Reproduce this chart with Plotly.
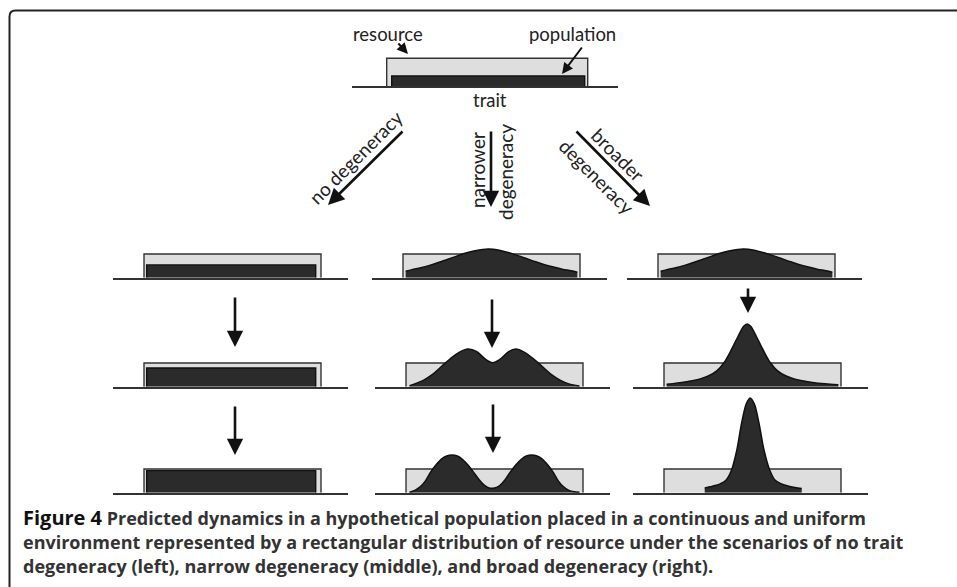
import plotly.graph_objects as go

W, H = 957, 587

# ---- data (trait on 0..1 = resource span, heights in units of the resource level) ----
resource_lo, resource_hi, resource_level = 0.0, 1.0, 1.0

top_pop_span = [0.025, 0.985]
top_pop_level = 0.36

# no degeneracy: population stays a flat block that fills up the resource
left_levels = [0.54, 0.79, 0.93]
left_span = [0.015, 0.97]

# starting state for both degenerate scenarios (broad bell)
start_t = [0.015, 0.05, 0.10, 0.15, 0.20, 0.25, 0.30, 0.35, 0.40, 0.45, 0.48,
           0.51, 0.55, 0.60, 0.65, 0.70, 0.75, 0.80, 0.85, 0.90, 0.95, 0.985]
start_h = [0.27, 0.34, 0.42, 0.52, 0.64, 0.77, 0.90, 1.03, 1.13, 1.19, 1.21,
           1.20, 1.15, 1.05, 0.93, 0.80, 0.67, 0.55, 0.45, 0.36, 0.29, 0.23]

# narrower degeneracy
narrow2_t = [0.02, 0.05, 0.10, 0.15, 0.20, 0.25, 0.30, 0.35, 0.40, 0.45, 0.49,
             0.53, 0.58, 0.62, 0.67, 0.72, 0.77, 0.82, 0.87, 0.92, 0.98]
narrow2_h = [0.04, 0.12, 0.28, 0.52, 0.85, 1.18, 1.45, 1.59, 1.48, 1.15, 1.01,
             1.15, 1.48, 1.59, 1.45, 1.18, 0.85, 0.52, 0.28, 0.12, 0.03]
narrow3_t = [0.02, 0.05, 0.08, 0.11, 0.14, 0.17, 0.20, 0.23, 0.26, 0.29, 0.32,
             0.35, 0.38, 0.41, 0.44, 0.47, 0.50, 0.53, 0.56, 0.59, 0.62, 0.65,
             0.68, 0.71, 0.74, 0.77, 0.80, 0.83, 0.86, 0.89, 0.92, 0.95, 0.98]
narrow3_h = [0.02, 0.10, 0.25, 0.50, 0.88, 1.18, 1.42, 1.55, 1.59, 1.55, 1.40,
             1.17, 0.88, 0.58, 0.33, 0.20, 0.20, 0.30, 0.55, 0.88, 1.17, 1.40,
             1.55, 1.59, 1.55, 1.42, 1.18, 0.88, 0.50, 0.25, 0.10, 0.04, 0.02]

# broader degeneracy
broad2_t = [0.015, 0.05, 0.10, 0.15, 0.20, 0.25, 0.30, 0.34, 0.38, 0.42, 0.45,
            0.47, 0.49, 0.52, 0.56, 0.60, 0.64, 0.69, 0.74, 0.79, 0.84, 0.89,
            0.94, 0.985]
broad2_h = [0.10, 0.13, 0.18, 0.24, 0.32, 0.45, 0.68, 1.02, 1.55, 2.15, 2.55,
            2.65, 2.55, 2.15, 1.55, 1.02, 0.68, 0.45, 0.32, 0.24, 0.18, 0.13,
            0.10, 0.08]
broad3_t = [0.23, 0.26, 0.29, 0.32, 0.35, 0.38, 0.41, 0.44, 0.465, 0.486, 0.51,
            0.535, 0.565, 0.595, 0.625, 0.66, 0.70, 0.74, 0.778]
broad3_h = [0.20, 0.25, 0.30, 0.38, 0.52, 0.92, 1.75, 3.00, 3.75, 4.00, 3.75,
            3.00, 1.80, 1.00, 0.55, 0.38, 0.28, 0.22, 0.18]

caption = [
    "<b><span style='font-size:20px'>Figure 4</span></b> <b><span style='color:#333'>Predicted dynamics in a hypothetical population placed in a continuous and uniform</span></b>",
    "<b><span style='color:#333'>environment represented by a rectangular distribution of resource under the scenarios of no trait</span></b>",
    "<b><span style='color:#333'>degeneracy (left), narrow degeneracy (middle), and broad degeneracy (right).</span></b>",
]

# ---- layout helpers ----
RES_FILL = "#dedede"
POP_FILL = "#2b2b2b"
EDGE = "#333333"
FONT = "Lato"
CAP_FONT = "Open Sans"


def px(x, y):
    return x / W, 1 - y / H


fig = go.Figure()
layout = {}

# (t=0 pixel x, baseline pixel y, resource width px, unit height px, ymax)
panels = [
    (386.7, 86.0, 201, 27.7, 1.25),
    (144, 277.7, 177, 23.7, 1.5), (403, 277.7, 177, 23.7, 1.5), (658, 277.7, 177, 23.7, 1.5),
    (144, 386.7, 177, 23.7, 2.9), (406, 386.7, 177, 23.7, 2.9), (664, 386.7, 177, 23.7, 2.9),
    (144, 492.7, 177, 23.7, 4.2), (406, 492.7, 177, 23.7, 4.2), (664, 492.7, 177, 23.7, 4.2),
]
xlo, xhi = -0.175, 1.15

for i, (x0, base, wres, unit, ymax) in enumerate(panels, start=1):
    sx = "" if i == 1 else str(i)
    layout["xaxis" + sx] = dict(
        domain=[(x0 + xlo * wres) / W, (x0 + xhi * wres) / W], range=[xlo, xhi],
        anchor="y" + sx, showline=True, linecolor=EDGE, linewidth=1.6,
        showgrid=False, zeroline=False, showticklabels=False, ticks="", fixedrange=True)
    layout["yaxis" + sx] = dict(
        domain=[(H - base) / H, (H - base + ymax * unit) / H], range=[0, ymax],
        anchor="x" + sx, visible=False, showgrid=False, zeroline=False, fixedrange=True)


def add_resource(i):
    sx = "" if i == 1 else str(i)
    fig.add_trace(go.Scatter(
        x=[resource_lo, resource_lo, resource_hi, resource_hi],
        y=[0, resource_level, resource_level, 0],
        fill="toself", fillcolor=RES_FILL, mode="lines",
        line=dict(color=EDGE, width=1.4), xaxis="x" + sx, yaxis="y" + sx,
        hoverinfo="skip", showlegend=False))


def add_block(i, span, level):
    sx = "" if i == 1 else str(i)
    fig.add_trace(go.Scatter(
        x=[span[0], span[0], span[1], span[1]], y=[0, level, level, 0],
        fill="toself", fillcolor=POP_FILL, mode="lines",
        line=dict(color="#111", width=1.4), xaxis="x" + sx, yaxis="y" + sx,
        hoverinfo="skip", showlegend=False))


def add_curve(i, t, h):
    sx = "" if i == 1 else str(i)
    fig.add_trace(go.Scatter(
        x=t, y=h, fill="tozeroy", fillcolor=POP_FILL, mode="lines",
        line=dict(color="#111", width=1.5, shape="spline", smoothing=0.9),
        xaxis="x" + sx, yaxis="y" + sx, hoverinfo="skip", showlegend=False))


for i in range(1, 11):
    add_resource(i)

add_block(1, top_pop_span, top_pop_level)
for i, lvl in zip([2, 5, 8], left_levels):
    add_block(i, left_span, lvl)
add_curve(3, start_t, start_h)
add_curve(4, start_t, start_h)
add_curve(6, narrow2_t, narrow2_h)
add_curve(9, narrow3_t, narrow3_h)
add_curve(7, broad2_t, broad2_h)
add_curve(10, broad3_t, broad3_h)

annotations = []


def arrow(x0, y0, x1, y1, width=2.6, size=1.25):
    hx, hy = px(x1, y1)
    annotations.append(dict(
        x=hx, y=hy, xref="paper", yref="paper", ax=x0 - x1, ay=y0 - y1,
        axref="pixel", ayref="pixel", text="", showarrow=True,
        arrowhead=2, arrowsize=size, arrowwidth=width, arrowcolor="#111"))


def label(x, y, text, angle=0, size=18.5):
    lx, ly = px(x, y)
    annotations.append(dict(
        x=lx, y=ly, xref="paper", yref="paper", text=text, showarrow=False,
        textangle=angle, xanchor="center", yanchor="middle",
        font=dict(family=FONT, size=size, color="#222")))


# top labels and pointer arrows
label(388, 34, "resource")
label(572, 34, "population")
label(490, 100, "trait")
arrow(397, 42, 408, 54, width=2, size=1.1)
arrow(583, 46, 562, 74, width=2, size=1.1)

# scenario arrows
arrow(404, 130, 328, 205)
label(355, 157, "no degeneracy", -45, 19)
arrow(491, 130, 491, 207)
label(477, 170, "narrower", -90, 19)
label(505, 172, "degeneracy", -90, 19)
arrow(575, 130, 650, 206)
label(618, 154, "broader", 45, 19)
label(597, 176, "degeneracy", 45, 19)

# time arrows between rows
arrow(235, 296, 235, 347)
arrow(235, 405, 235, 455)
arrow(492, 298, 492, 348)
arrow(493, 403, 493, 453)
arrow(748, 287, 748, 313)

# caption
for k, (line, yc) in enumerate(zip(caption, [517, 542, 566])):
    cx, cy = px(21, yc)
    annotations.append(dict(
        x=cx, y=cy, xref="paper", yref="paper", text=line, showarrow=False,
        xanchor="left", yanchor="middle", align="left",
        font=dict(family=CAP_FONT, size=18, color="#111")))

# rounded frame (runs off the right and bottom edge)
fx0, fy0, r = 9.5, 10.5, 6
corner = [px(fx0, H + 20), px(fx0, fy0 + r), px(fx0, fy0), px(fx0 + r, fy0), px(W + 20, fy0)]
path = "M {0[0]},{0[1]} L {1[0]},{1[1]} Q {2[0]},{2[1]} {3[0]},{3[1]} L {4[0]},{4[1]}".format(*corner)
shapes = [dict(type="path", xref="paper", yref="paper", path=path,
               line=dict(color="#222", width=2))]

fig.update_layout(
    **layout,
    width=W, height=H, margin=dict(l=0, r=0, t=0, b=0),
    paper_bgcolor="white", plot_bgcolor="rgba(0,0,0,0)",
    annotations=annotations, shapes=shapes, showlegend=False,
)

fig.write_html("out.html", config={"displayModeBar": False},
               post_script="document.body.style.margin='0';document.body.style.overflow='hidden';")
